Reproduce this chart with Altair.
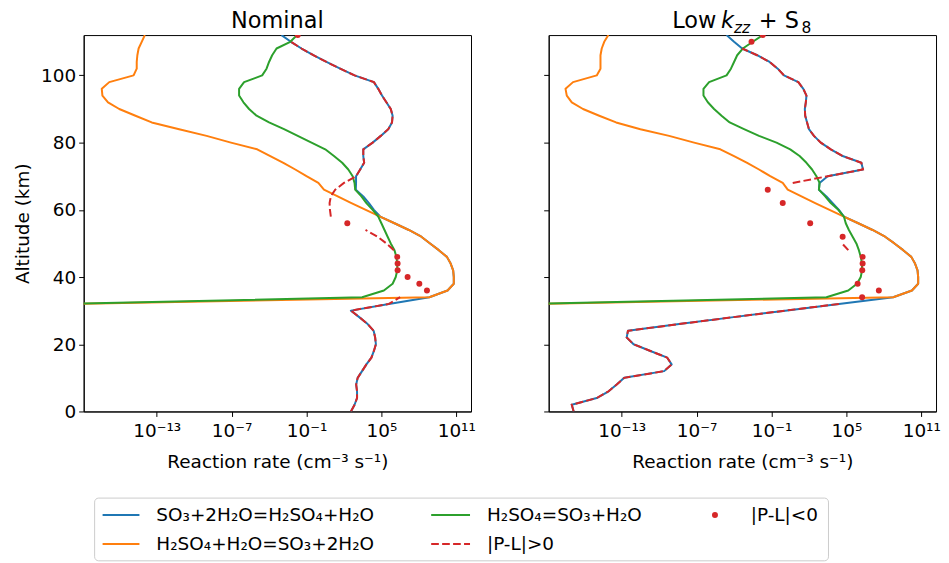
import altair as alt
import pandas as pd

# ---------------- data (log10 of reaction rate, cm^-3 s^-1) ----------------
ALTITUDE = list(range(112, -1, -2))          # 57 levels, km
ALT_UPPER = list(range(112, 31, -2))         # 41 levels (112..32) for reverse reactions

# Nominal
NOM_FWD = [-3.0, -2.25, -1.4, -0.45, 0.6, 1.7, 2.85, 4.4, 4.75, 5.05, 5.4, 5.75, 5.9, 5.85,
           5.55, 4.95, 4.3, 3.55, 3.55, 3.62, 3.3, 2.97, 2.97, 2.95, 3.55, 4.0, 4.4,
           4.9, 6.05, 7.2, 8.2, 8.9, 9.6, 10.25, 10.55, 10.75, 10.8, 10.8, 10.3, 8.84,
           5.6, 2.56, 3.25, 3.9, 4.38, 4.5, 4.56, 4.4, 4.2, 3.8, 3.45, 3.1, 2.98, 3.05, 3.05, 2.85, 2.56]
NOM_REV1 = [-13.95, -14.2, -14.45, -14.55, -14.6, -14.6, -14.85, -16.8, -17.4, -17.35, -16.9, -16.0,
            -14.7, -13.4, -11.2, -9.0, -7.05, -4.95, -3.9, -2.85, -1.9, -1.0, -0.05, 0.4, 1.5, 2.6, 3.75,
            4.9, 6.05, 7.2, 8.2, 8.9, 9.6, 10.25, 10.55, 10.75, 10.8, 10.8, 10.3, 8.84, -20]
NOM_REV2 = [-1.75, -2.3, -3.4, -3.75, -4.0, -4.2, -4.55, -6.0, -6.4, -6.4, -6.05, -5.6, -5.0, -4.0,
            -2.8, -1.7, -0.6, 0.5, 1.2, 1.86, 2.35, 2.7, 2.85, 2.9, 3.4, 3.8, 4.3,
            4.75, 5.0, 5.25, 5.5, 5.75, 6.05, 6.2, 6.27, 6.27, 6.15, 5.9, 5.2, 3.46, -20]
NOM_NET_POS = [None,
               -2.25, -1.4, -0.45, 0.6, 1.7, 2.85, 4.4, 4.75, 5.05, 5.4, 5.75, 5.9, 5.85,
               5.55, 4.95, 4.3, 3.55, 3.55, 3.62, 3.3, 2.97,
               2.0, 1.3, 0.95, 0.85, 0.88, 0.95,
               None, 3.73, 4.7, 5.4, 6.0,
               None, None, None, None, None, None,
               6.5,
               5.6, 2.56, 3.25, 3.9, 4.38, 4.5, 4.56, 4.4, 4.2, 3.8, 3.45, 3.1, 2.98, 3.05, 3.05, 2.85, 2.56]
NOM_NEG_ALT = [112, 56, 46, 44, 42, 40, 38, 36]
NOM_NEG_VAL = [-1.7, 2.27, 6.27, 6.3, 6.3, 7.1, 8.04, 8.65]

# Low kzz + S8
LOW_FWD = [-4.6, -4.0, -3.35, -2.15, -1.15, -0.5, 0.0, 1.15, 1.55, 1.8, 1.75, 1.67, 1.7, 1.85,
           2.0, 2.4, 2.95, 3.75, 4.7, 6.2, 6.33, 3.5, 2.85, 2.8, 3.4, 3.9, 4.4,
           4.8, 5.95, 7.1, 8.1, 8.85, 9.55, 10.2, 10.5, 10.7, 10.75, 10.75, 10.25, 8.75,
           4.4, 0.1, -4.2, -8.4, -12.5, -12.6, -12.05, -10.7, -9.35, -9.0, -9.6, -12.8, -13.4,
           -14.05, -15.0, -17.0, -16.85]
LOW_REV1 = [-14.07, -14.4, -14.6, -14.7, -14.7, -14.7, -15.0, -16.9, -17.5, -17.4, -17.0, -16.1,
            -14.8, -13.45, -11.5, -9.2, -7.2, -5.1, -4.0, -2.95, -2.0, -1.1, -0.1, 0.3, 1.4, 2.5, 3.65,
            4.8, 5.95, 7.1, 8.1, 8.85, 9.55, 10.2, 10.5, 10.7, 10.75, 10.75, 10.25, 8.75, -20]
LOW_REV2 = [-1.7, -2.5, -3.3, -3.75, -4.0, -4.25, -4.6, -6.0, -6.45, -6.45, -6.1, -5.6, -5.0, -4.35,
            -3.2, -2.0, -0.6, 0.5, 1.25, 1.8, 2.25, 2.6, 2.85, 2.8, 3.3, 3.75, 4.35,
            4.8, 4.95, 5.2, 5.5, 5.8, 6.0, 6.15, 6.25, 6.25, 6.15, 5.85, 5.15, 3.4, -20]
LOW_NET_POS = [None, None,
               -3.35, -2.15, -1.15, -0.5, 0.0, 1.15, 1.55, 1.8, 1.75, 1.67, 1.7, 1.85,
               2.0, 2.4, 2.95, 3.75, 4.7, 6.2, 6.33, 3.5,
               0.7,
               None, None, None, None, None, None, None, None,
               4.65, 5.15,
               None, None, None, None, None, None, None,
               4.4, 0.1, -4.2, -8.4, -12.5, -12.6, -12.05, -10.7, -9.35, -9.0, -9.6, -12.8, -13.4,
               -14.05, -15.0, -17.0, -16.85]
LOW_NEG_ALT = [112, 110, 66, 62, 56, 52, 46, 44, 42, 38, 36, 34]
LOW_NEG_VAL = [-1.7, -2.6, -1.3, -0.1, 2.1, 4.7, 6.3, 6.3, 6.27, 5.9, 7.6, 6.26]

SERIES_LABELS = ["SO₃+2H₂O=H₂SO₄+H₂O", "H₂SO₄+H₂O=SO₃+2H₂O", "H₂SO₄=SO₃+H₂O",
                 "|P-L|>0", "|P-L|<0"]
XTICK_EXP = [-13, -7, -1, 5, 11]
XTICK_TEXT = ["10⁻¹³", "10⁻⁷", "10⁻¹", "10⁵", "10¹¹"]
YTICKS = [0, 20, 40, 60, 80, 100]

# ---------------- styling ----------------
BLUE, ORANGE, GREEN, RED = "#1f77b4", "#ff7f0e", "#2ca02c", "#d62728"
FONT = "DejaVu Sans"
FS = 18.5
W, H = 389, 378
DASH = [7.7, 3.3]


def line_df(alts, vals):
    rows = []
    seg, prev = 0, False
    for a, v in zip(alts, vals):
        if v is None:
            prev = False
            continue
        if not prev:
            seg += 1
        prev = True
        rows.append({"alt": a, "rate": 10 ** v, "seg": seg})
    return pd.DataFrame(rows)


xscale = alt.Scale(type="log", domain=[10 ** -18.85, 10 ** 12.18], nice=False)
yscale = alt.Scale(domain=[0, 112], nice=False, zero=False)

label_expr = "''"
for e, t in reversed(list(zip(XTICK_EXP, XTICK_TEXT))):
    label_expr = f"round(log(datum.value)/LN10) == {e} ? '{t}' : ({label_expr})"

xaxis = alt.Axis(values=[10.0 ** e for e in XTICK_EXP], labelExpr=label_expr,
                 title="Reaction rate (cm⁻³ s⁻¹)", labelFlush=False, labelOverlap=False,
                 labelPadding=5, titlePadding=13)


def yaxis(show):
    if show:
        return alt.Axis(values=YTICKS, title="Altitude (km)", labelPadding=3, titlePadding=8)
    return alt.Axis(values=YTICKS, labels=False, title=None)


def panel(fwd, rev1, rev2, netpos, neg_alt, neg_val, show_y, extra):
    X = alt.X("rate:Q", scale=xscale, axis=xaxis)
    Y = alt.Y("alt:Q", scale=yscale, axis=yaxis(show_y))
    lw = 2
    l_fwd = alt.Chart(line_df(ALTITUDE, fwd)).mark_line(
        color=BLUE, strokeWidth=lw, clip=True, strokeJoin="round").encode(x=X, y=Y, order="alt:Q")
    l_r1 = alt.Chart(line_df(ALT_UPPER, rev1)).mark_line(
        color=ORANGE, strokeWidth=lw, clip=True, strokeJoin="round").encode(x=X, y=Y, order="alt:Q")
    l_r2 = alt.Chart(line_df(ALT_UPPER, rev2)).mark_line(
        color=GREEN, strokeWidth=lw, clip=True, strokeJoin="round").encode(x=X, y=Y, order="alt:Q")
    l_net = alt.Chart(line_df(ALTITUDE, netpos)).mark_line(
        color=RED, strokeWidth=lw, strokeDash=DASH, clip=True).encode(
        x=X, y=Y, order="alt:Q", detail="seg:N")
    p_neg = alt.Chart(line_df(neg_alt, neg_val)).mark_circle(
        color=RED, size=36, opacity=1, clip=True).encode(x=X, y=Y)
    return alt.layer(l_fwd, l_r1, l_r2, l_net, p_neg, *extra).properties(width=W, height=H)


one = pd.DataFrame({"k": [0]})


def txt(s, x, y, size=FS, align="left", baseline="middle", style="normal"):
    return alt.Chart(one).mark_text(align=align, baseline=baseline, fontSize=size, font=FONT,
                                    color="black", fontStyle=style).encode(
        x=alt.value(x), y=alt.value(y), text=alt.value(s))


TITLE_Y = -7
title_left = [txt("Nominal", W / 2, TITLE_Y, size=22.5, align="center", baseline="alphabetic")]
title_right = [
    txt("Low", 124, TITLE_Y, size=22.5, baseline="alphabetic"),
    txt("k", 173, TITLE_Y, size=22.5, baseline="alphabetic", style="italic"),
    txt("zz", 186, TITLE_Y + 5, size=15.5, baseline="alphabetic", style="italic"),
    txt("+ S", 211, TITLE_Y, size=22.5, baseline="alphabetic"),
    txt("8", 254, TITLE_Y + 5, size=15.5, baseline="alphabetic"),
]

# legend (drawn below the left panel, positions relative to its plot area)
R1, R2 = 482, 511
legend = [
    alt.Chart(one).mark_rect(fill="white", stroke="#cccccc", strokeWidth=1, cornerRadius=4).encode(
        x=alt.value(11), x2=alt.value(748), y=alt.value(465), y2=alt.value(528)),
    alt.Chart(one).mark_rule(color=BLUE, strokeWidth=2).encode(
        x=alt.value(19), x2=alt.value(56), y=alt.value(R1)),
    alt.Chart(one).mark_rule(color=ORANGE, strokeWidth=2).encode(
        x=alt.value(19), x2=alt.value(56), y=alt.value(R2)),
    alt.Chart(one).mark_rule(color=GREEN, strokeWidth=2).encode(
        x=alt.value(349), x2=alt.value(388), y=alt.value(R1)),
    alt.Chart(one).mark_rule(color=RED, strokeWidth=2, strokeDash=DASH).encode(
        x=alt.value(349), x2=alt.value(388), y=alt.value(R2)),
    alt.Chart(one).mark_circle(color=RED, size=36, opacity=1).encode(
        x=alt.value(634), y=alt.value(R1)),
    txt(SERIES_LABELS[0], 73, R1),
    txt(SERIES_LABELS[1], 73, R2),
    txt(SERIES_LABELS[2], 405, R1),
    txt(SERIES_LABELS[3], 405, R2),
    txt(SERIES_LABELS[4], 670, R1),
]

left = panel(NOM_FWD, NOM_REV1, NOM_REV2, NOM_NET_POS, NOM_NEG_ALT, NOM_NEG_VAL, True,
             title_left + legend)
right = panel(LOW_FWD, LOW_REV1, LOW_REV2, LOW_NET_POS, LOW_NEG_ALT, LOW_NEG_VAL, False,
              title_right)

chart = alt.hconcat(left, right, spacing=78, bounds="flush").properties(
    padding={"left": 5, "top": 0, "right": 0, "bottom": 0}
).configure_axis(
    domainColor="black", domainWidth=1, tickColor="black", tickWidth=1, tickSize=5,
    labelColor="black", titleColor="black", labelFont=FONT, titleFont=FONT,
    labelFontSize=FS, titleFontSize=FS, titleFontWeight="normal", grid=False
).configure_view(stroke="black", strokeWidth=1)

chart.save("out.html", embed_options={"renderer": "svg", "actions": False})
